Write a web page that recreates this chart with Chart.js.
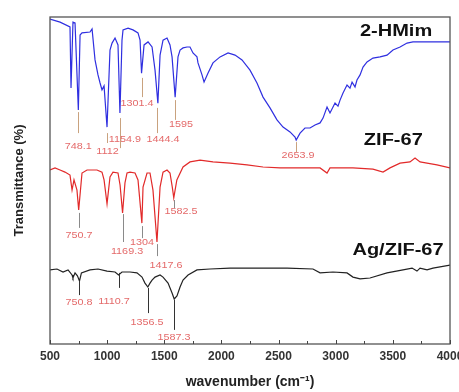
<!DOCTYPE html>
<html><head><meta charset="utf-8">
<script src="https://cdn.jsdelivr.net/npm/chart.js@4/dist/chart.umd.min.js"></script>
<style>html,body{margin:0;padding:0;background:#fff}</style>
</head><body>
<canvas id="c" width="459" height="392"></canvas>
<script>
// ---- data (x: wavenumber cm-1, y: transmittance, arbitrary offset units) ----
const xTickValues = [500,1000,1500,2000,2500,3000,3500,4000];
const seriesNames = ['2-HMim','ZIF-67','Ag/ZIF-67'];
const seriesColors = ['#2f2fe0','#e22a2a','#222222'];

const hmimX = [500,588,675,684,701,719,748,763,780,850,868,894,920,938,955,973,999,1025,1043,1069,1095,1112,1130,1139,1183,1226,1270,1288,1301,1323,1358,1393,1419,1444,1463,1489,1524,1550,1568,1595,1620,1638,1664,1699,1725,1751,1786,1795,1830,1848,1883,1926,1988,2058,2119,2180,2250,2311,2364,2425,2486,2539,2600,2644,2654,2688,2731,2775,2819,2863,2889,2924,2950,2994,3020,3038,3064,3099,3125,3143,3169,3186,3213,3239,3274,3326,3388,3449,3501,3563,3624,3676,3799,4000];
const hmimT = [108.3,107.3,105.7,85.3,107.3,107,78,103,103.7,104,105,94.7,89.7,87,84.7,86,72.3,98,100.3,102,99.7,77,101.3,104.7,105.3,104.7,103.7,101.3,90.3,99.7,100.7,99,91.3,80.3,96.3,101.3,102,99.7,95.7,82.3,95.7,98,98.7,99,99,97,95.7,93.7,89.7,87.3,90.3,93.7,95.7,97,96.3,94.7,91.3,87,82.3,78.7,74.7,72.3,70.7,69,68,70.3,72,72,73,73.7,75.3,79,77,80.3,79.3,81.3,83.7,86.3,85.3,87.3,85.7,88,89.7,92.3,94,95.3,95.7,96.3,98,99,100.3,100.7,100.7,100.7];

const zifX = [500,544,588,631,675,693,710,736,751,780,824,911,955,973,999,1025,1051,1095,1113,1135,1156,1174,1200,1244,1270,1304,1314,1349,1375,1401,1436,1463,1489,1524,1550,1570,1583,1610,1664,1725,1813,1926,2075,2224,2364,2513,2688,2863,2924,2950,3151,3326,3414,3475,3563,3650,3694,3738,3799,3886,4000];
const zifT = [58,58.7,58,57.3,56.3,51.3,54.7,51.3,44.7,57,58,58,57.3,54.7,46.7,55.7,57.3,57,53,43.7,53.7,57,57.3,57,54.7,40.3,52.3,57,57,51.3,34,52.3,57.3,58,57,52.3,48.7,54.7,59,60.7,61.3,60.7,60.3,59.7,59,58.7,58.7,58.7,57,58.7,58.7,58.3,57.3,58.7,60.3,60.7,62,60.7,60.3,59.7,58.7];

const agX = [500,561,614,658,693,701,719,740,758,775,850,920,999,1069,1100,1130,1200,1261,1305,1331,1356,1375,1393,1419,1463,1489,1533,1568,1587,1611,1638,1664,1708,1786,1900,2075,2276,2574,2801,2863,2976,3099,3151,3213,3300,3449,3589,3668,3711,3738,3799,3851,4000];
const agT = [24.7,25,24,24.7,23,22,23.7,22.7,21,23.7,24.7,25,24.3,24,23,24,24,23.7,22.3,20.3,19,20.3,21.3,22.3,23,22.3,20.3,17,15,16,19,21.3,23,24.7,25,25.3,25.3,25.3,25,23.7,24,23.7,22.3,21.7,22,23.7,24.7,25.3,24.3,25.3,24.7,25.3,26.3];

// peak annotations
const peakText   = ['748.1','1112','1154.9','1301.4','1444.4','1595','2653.9','750.7','1169.3','1304','1417.6','1582.5','750.8','1110.7','1356.5','1587.3'];
const peakSeries = [0,0,0,0,0,0,0,1,1,1,1,1,2,2,2,2];
const peakLineX  = [748,999,1112,1301,1436,1595,2654,751,1135,1304,1436,1583,758,1100,1356,1587];
const peakLineFrom = [77.3,70.3,75.3,88.7,78.7,81.3,67.3,43.7,43.3,39.3,33.3,48,21,23.7,18.7,14.7];
const peakLineTo   = [70.3,67,65.3,82.3,70.3,74.7,64,38.7,34,35.3,29.3,45.3,16.3,18.7,10.3,4.7];
const peakTextX  = [748,1003,1156,1261,1489,1646,2670,754,1174,1305,1515,1646,754,1060,1349,1585];
const peakTextY  = [65.7,64,68,80.3,68,73,62.7,36.3,30.7,33.7,26.3,44,13.7,14,7.3,2.3];
const nameX = [3528,3504,3545];
const nameY = [104,67.7,31];

// ---- chart ----
const FONT = '"Liberation Sans", Arial, sans-serif';
const pts = (xs, ys) => xs.map((v, i) => ({x: v, y: ys[i]}));
const annLineColors = ['#c9a27e', '#8a8a8a', '#333333'];

function drawText(ctx, t, x, y, font, color, sx) {
  ctx.save();
  ctx.translate(x, y);
  ctx.scale(sx, 1);
  ctx.font = font;
  ctx.fillStyle = color;
  ctx.textAlign = 'center';
  ctx.textBaseline = 'middle';
  ctx.fillText(t, 0, 0);
  ctx.restore();
}

const deco = {
  id: 'deco',
  afterDatasetsDraw(chart) {
    const {ctx, scales: {x, y}} = chart;
    ctx.save();
    ctx.lineWidth = 1;
    peakText.forEach((t, i) => {
      const px = Math.round(x.getPixelForValue(peakLineX[i])) + 0.5;
      ctx.strokeStyle = annLineColors[peakSeries[i]];
      ctx.beginPath();
      ctx.moveTo(px, y.getPixelForValue(peakLineFrom[i]));
      ctx.lineTo(px, y.getPixelForValue(peakLineTo[i]));
      ctx.stroke();
      drawText(ctx, t, x.getPixelForValue(peakTextX[i]), y.getPixelForValue(peakTextY[i]),
        '9px ' + FONT, '#e46a6a', 1.2);
    });
    seriesNames.forEach((n, i) => {
      drawText(ctx, n, x.getPixelForValue(nameX[i]), y.getPixelForValue(nameY[i]),
        'bold 16px ' + FONT, '#111', 1.25);
    });
    ctx.restore();
  },
  afterDraw(chart) {
    const {ctx, chartArea: a, scales: {x}} = chart;
    ctx.save();
    ctx.strokeStyle = '#555';
    ctx.lineWidth = 1.3;
    ctx.strokeRect(a.left, a.top, a.right - a.left, a.bottom - a.top);
    ctx.lineWidth = 1;
    ctx.strokeStyle = '#444';
    for (let v = 500; v <= 4000; v += 250) {
      const px = Math.round(x.getPixelForValue(v)) + 0.5;
      const len = (v % 500 === 0) ? 4 : 3;
      ctx.beginPath();
      ctx.moveTo(px, a.bottom);
      ctx.lineTo(px, a.bottom - len);
      ctx.stroke();
    }
    ctx.restore();
  }
};

new Chart(document.getElementById('c'), {
  type: 'scatter',
  data: {
    datasets: [
      {label: seriesNames[0], data: pts(hmimX, hmimT)},
      {label: seriesNames[1], data: pts(zifX, zifT)},
      {label: seriesNames[2], data: pts(agX, agT)}
    ].map((d, i) => Object.assign(d, {
      showLine: true, pointRadius: 0, borderWidth: 1.2, tension: 0,
      borderColor: seriesColors[i], backgroundColor: seriesColors[i]
    }))
  },
  options: {
    responsive: false,
    animation: false,
    devicePixelRatio: 1,
    layout: {padding: {left: 0, right: 9, top: 17, bottom: 0}},
    plugins: {legend: {display: false}, tooltip: {enabled: false}},
    scales: {
      x: {
        type: 'linear', min: 500, max: 4000,
        afterBuildTicks: s => { s.ticks = xTickValues.map(v => ({value: v})); },
        afterFit: s => { s.height = 48; s.paddingLeft = 0; s.paddingRight = 0; },
        grid: {display: false, drawTicks: false},
        border: {display: false},
        ticks: {color: '#333', padding: 5, maxRotation: 0, autoSkip: false,
          callback: v => String(v),
          font: {family: FONT, size: 12, weight: 'bold'}},
        title: {display: true, text: 'wavenumber (cm\u207B\u00B9)', color: '#222',
          padding: {top: 0, bottom: 1}, font: {family: FONT, size: 14, weight: 'bold'}}
      },
      y: {
        min: 0, max: 109,
        afterFit: s => { s.width = 50; },
        grid: {display: false, drawTicks: false},
        border: {display: false},
        ticks: {display: false},
        title: {display: true, text: 'Transmittance (%)', color: '#222',
          padding: {top: 12, bottom: 0}, font: {family: FONT, size: 13, weight: 'bold'}}
      }
    }
  },
  plugins: [deco]
});
</script>
</body></html>
